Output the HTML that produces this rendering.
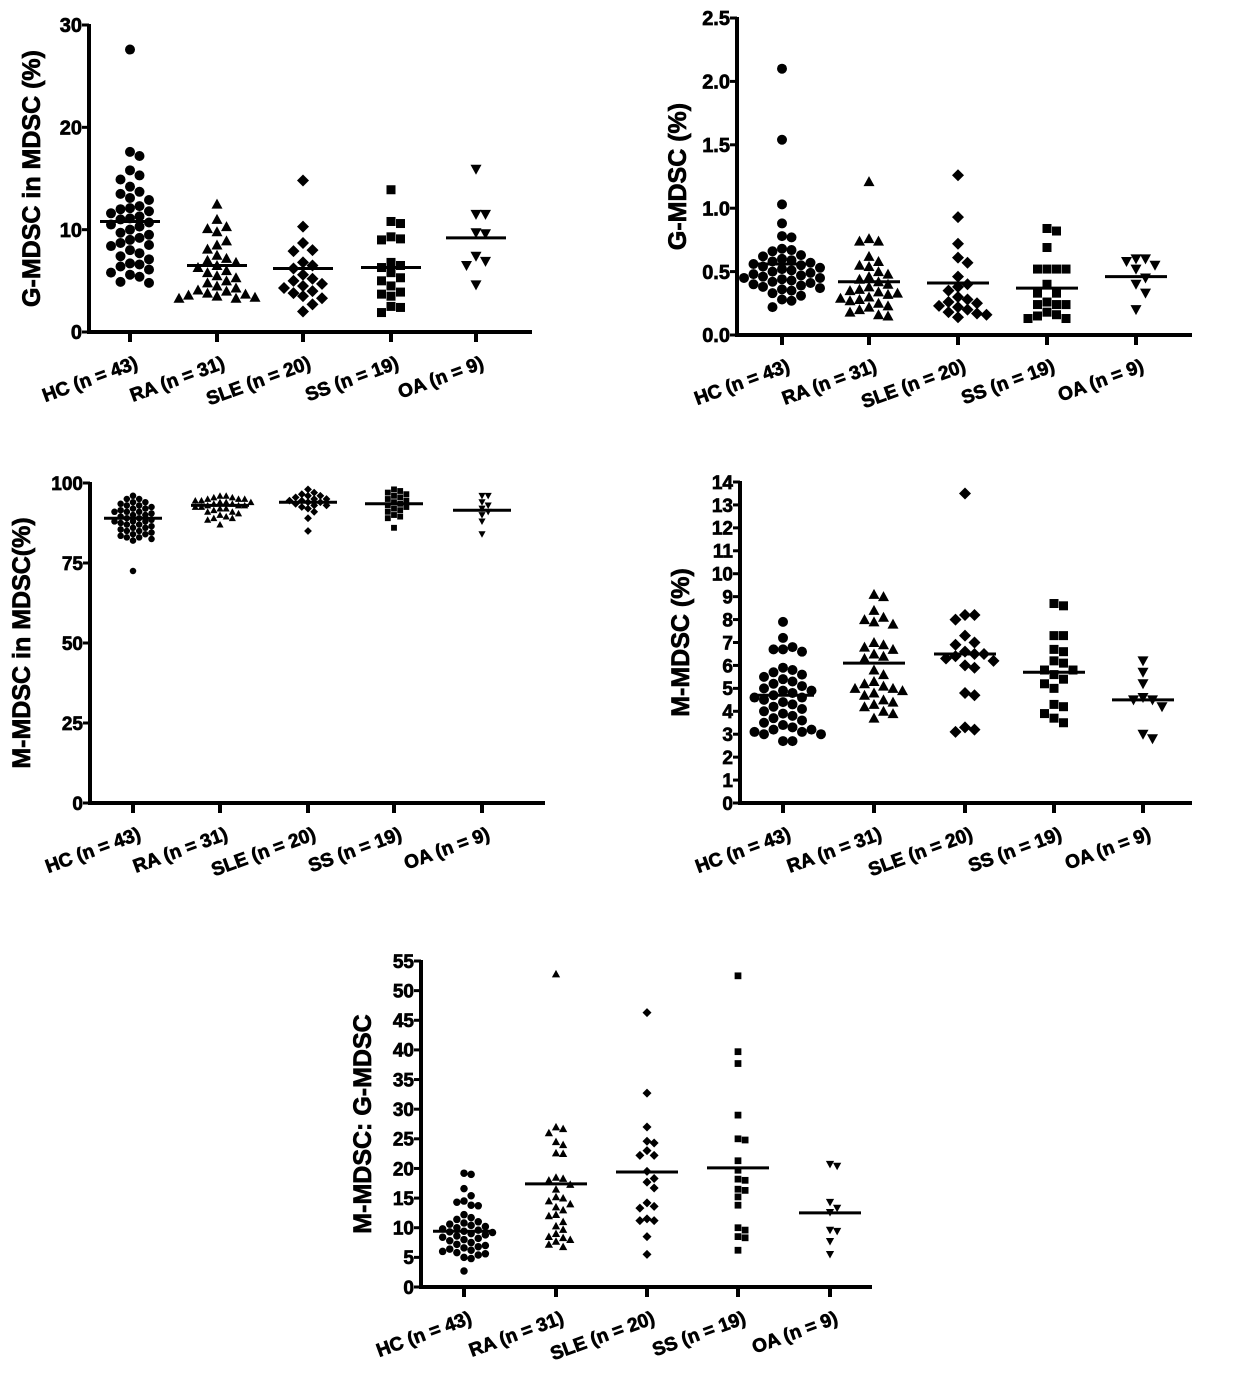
<!DOCTYPE html>
<html><head><meta charset="utf-8">
<style>
html,body{margin:0;padding:0;background:#fff;}
svg{display:block;font-family:"Liberation Sans",Arial,sans-serif;font-weight:bold;}
svg text{stroke:#000;stroke-width:0.7px;}
</style></head>
<body>
<svg id="fig" width="1240" height="1389" viewBox="0 0 1240 1389" xmlns="http://www.w3.org/2000/svg"></svg>
<script>
const categories = ["HC (n = 43)","RA (n = 31)","SLE (n = 20)","SS (n = 19)","OA (n = 9)"];
const shapes = ["circle","triangle","diamond","square","down"];

// Panel A: G-MDSC in MDSC (%)
const gInM_HC = [27.6,17.6,17.2,15.8,15.3,14.9,14.2,13.7,13.5,13.1,12.9,12.3,12.1,12.0,11.8,11.6,11.3,11.1,11.0,10.7,10.5,10.3,10.0,9.7,9.5,9.2,9.0,8.7,8.5,8.4,8.0,7.7,7.4,7.1,6.7,6.6,6.4,6.1,5.8,5.6,5.4,4.9,4.8];
const gInM_RA = [12.5,11.0,10.3,10.1,9.8,8.9,8.5,8.1,7.5,7.2,7.0,6.8,6.5,6.3,6.0,5.8,5.5,5.3,5.0,4.8,4.5,4.3,4.1,4.0,3.8,3.7,3.6,3.5,3.4,3.3,3.3];
const gInM_SLE = [14.8,10.3,8.7,8.0,7.9,6.8,6.5,6.2,5.6,5.2,5.0,4.7,4.5,4.3,4.0,3.8,3.5,3.3,2.7,2.0];
const gInM_SS = [13.9,10.8,10.6,9.3,9.1,9.0,6.8,6.5,6.3,5.8,5.3,5.0,4.5,3.9,3.7,3.5,2.5,2.4,1.9];
const gInM_OA = [15.9,11.5,11.5,9.7,9.6,7.4,6.9,6.5,4.6];
const gInM_means = [10.8,6.5,6.2,6.3,9.2];
const gInM_ticks = [0,10,20,30];

// Panel B: G-MDSC (%)
const g_HC = [2.10,1.54,1.03,0.88,0.78,0.77,0.68,0.67,0.66,0.63,0.62,0.60,0.59,0.58,0.57,0.56,0.55,0.54,0.53,0.52,0.51,0.50,0.49,0.48,0.47,0.46,0.45,0.45,0.44,0.43,0.42,0.41,0.40,0.39,0.38,0.37,0.36,0.35,0.33,0.31,0.28,0.27,0.22];
const g_RA = [1.21,0.76,0.74,0.74,0.62,0.58,0.55,0.54,0.50,0.48,0.46,0.44,0.42,0.40,0.38,0.36,0.35,0.34,0.33,0.32,0.30,0.29,0.28,0.27,0.25,0.23,0.22,0.20,0.18,0.16,0.15];
const g_SLE = [1.26,0.93,0.72,0.61,0.57,0.46,0.40,0.38,0.35,0.30,0.28,0.26,0.25,0.23,0.22,0.20,0.18,0.17,0.16,0.14];
const g_SS = [0.84,0.82,0.69,0.52,0.52,0.52,0.52,0.40,0.33,0.33,0.26,0.24,0.24,0.24,0.18,0.16,0.15,0.13,0.13];
const g_OA = [0.60,0.60,0.58,0.55,0.52,0.45,0.40,0.33,0.20];
const g_means = [0.56,0.42,0.41,0.37,0.46];
const g_ticks = [0,0.5,1.0,1.5,2.0,2.5];

// Panel C: M-MDSC in MDSC (%)
const mInM_HC = [96,95,95,94,94,93.5,93,93,92.5,92,92,91.5,91,91,90.5,90,90,89.5,89,89,88.5,88,88,87.5,87,87,86.5,86,86,85.5,85,85,84.5,84,84,83.5,83,83,82.5,82,91,88,72.5];
const mInM_RA = [96,96,95.5,95.5,95,95,95,94.5,94.5,94,94,94,93.5,93.5,93,93,93,92.5,92.5,92,92,91.5,91,91,90.5,90,89.5,89,89,88.5,87];
const mInM_SLE = [98,97,96.5,96,96,95.5,95,95,94.5,94.5,94,94,93.5,93,93,92.5,92,91,89,85];
const mInM_SS = [98,97.5,97,96.5,96,95.5,95,94.5,94,93.5,93,92.5,92,91.5,91,90,89.5,89,86];
const mInM_OA = [96,96,94,93,92,91,90,88,84];
const mInM_means = [89,93,94,93.5,91.5];
const mInM_ticks = [0,25,50,75,100];

// Panel D: M-MDSC (%)
const m_HC = [7.9,7.2,6.8,6.7,6.7,6.6,5.9,5.8,5.7,5.6,5.5,5.4,5.3,5.2,5.1,5.0,4.9,4.9,4.8,4.7,4.6,4.6,4.5,4.4,4.3,4.2,4.1,4.0,3.9,3.8,3.7,3.6,3.5,3.4,3.3,3.2,3.2,3.1,3.1,3.0,3.0,2.7,2.7];
const m_RA = [9.1,9.0,8.4,8.1,8.0,7.9,7.8,7.0,6.9,6.8,6.7,6.5,6.4,6.3,5.8,5.6,5.3,5.2,5.1,5.0,5.0,4.9,4.8,4.7,4.5,4.4,4.3,4.2,4.0,3.9,3.7];
const m_SLE = [13.5,8.2,8.2,8.0,7.3,7.0,6.9,6.6,6.5,6.5,6.4,6.3,6.2,6.0,5.9,4.8,4.7,3.3,3.2,3.1];
const m_SS = [8.7,8.6,7.3,7.3,6.7,6.6,6.2,6.1,5.8,5.8,5.6,5.4,5.2,5.0,4.3,4.2,3.9,3.7,3.5];
const m_OA = [6.2,5.7,5.2,4.6,4.5,4.5,4.2,3.0,2.8];
const m_means = [4.7,6.1,6.5,5.7,4.5];
const m_ticks = [0,1,2,3,4,5,6,7,8,9,10,11,12,13,14];

// Panel E: M-MDSC : G-MDSC
const r_HC = [19.2,19.0,16.6,15.4,14.5,14.3,13.8,13.7,12.2,11.7,11.4,11.0,10.8,10.6,10.4,10.2,10.0,9.8,9.6,9.4,9.3,9.2,9.0,8.8,8.6,8.4,8.2,8.0,7.8,7.5,7.2,7.0,6.8,6.6,6.4,6.2,6.0,5.8,5.6,5.4,5.0,4.8,2.7];
const r_RA = [52.8,27.0,26.7,26.0,24.5,24.0,22.6,22.5,18.5,18.3,18.0,17.3,16.5,15.2,15.0,14.5,14.0,13.5,13.0,12.2,12.0,11.0,10.3,9.7,9.0,8.5,8.3,8.0,7.7,7.2,6.8];
const r_SLE = [46.3,32.7,27.0,24.6,24.3,23.0,22.2,22.2,19.5,18.3,17.7,16.7,14.2,13.6,13.3,11.5,11.2,11.2,8.5,5.5];
const r_SS = [52.5,39.7,37.7,29.0,25.0,24.8,21.3,19.7,18.2,18.0,16.5,16.3,15.2,13.8,10.0,9.6,8.5,8.3,6.2];
const r_OA = [20.7,20.4,14.3,13.3,12.6,9.6,9.4,7.7,5.5];
const r_means = [9.4,17.4,19.4,20.1,12.5];
const r_ticks = [0,5,10,15,20,25,30,35,40,45,50,55];

const NS = "http://www.w3.org/2000/svg";
const svg = document.getElementById("fig");
function mk(tag, attrs, parent){
  const e = document.createElementNS(NS, tag);
  for (const k in attrs) e.setAttribute(k, attrs[k]);
  (parent||svg).appendChild(e);
  return e;
}

function marker(g, shape, x, y, s){
  let e;
  if (shape==="circle") e = mk("circle",{cx:x,cy:y,r:s*0.5,fill:"#000"},g);
  else if (shape==="square") e = mk("rect",{x:x-s*0.45,y:y-s*0.45,width:s*0.9,height:s*0.9,fill:"#000"},g);
  else if (shape==="triangle") e = mk("polygon",{points:`${x},${y-s*0.55} ${x+s*0.55},${y+s*0.45} ${x-s*0.55},${y+s*0.45}`,fill:"#000"},g);
  else if (shape==="down") e = mk("polygon",{points:`${x},${y+s*0.55} ${x+s*0.55},${y-s*0.45} ${x-s*0.55},${y-s*0.45}`,fill:"#000"},g);
  else e = mk("polygon",{points:`${x},${y-s*0.6} ${x+s*0.6},${y} ${x},${y+s*0.6} ${x-s*0.6},${y}`,fill:"#000"},g);
  return e;
}

function panel(cfg){
  const {name, ax, y0, y1, xEnd, vmax, ticks, tickFmt, cats, groups, means, title, titleX, ms, meanW, tfs} = cfg;
  const g = mk("g",{});
  
  
  const yScale = v => y0 - (v / vmax) * (y0 - y1);
  const yAxis = mk("line",{x1:ax,y1:y1-1,x2:ax,y2:y0+2,stroke:"#000","stroke-width":4},g);
  
  
  const xAxis = mk("line",{x1:ax-2,y1:y0,x2:xEnd,y2:y0,stroke:"#000","stroke-width":4},g);
  
  
  ticks.forEach(t=>{
    const y = yScale(t);
    const tk = mk("line",{x1:ax-7,y1:y,x2:ax,y2:y,stroke:"#000","stroke-width":3},g);
    
    
    const lb = mk("text",{x:ax-7,y:y+tfs*0.36,"text-anchor":"end","font-size":tfs},g);
    lb.textContent = tickFmt(t);
    
    
  });
  const tt = mk("text",{x:0,y:0,"text-anchor":"middle","font-size":25,transform:`translate(${titleX},${(y0+y1)/2}) rotate(-90)`},g);
  tt.textContent = title;
  
  
  cats.forEach((cx,i)=>{
    const tk = mk("line",{x1:cx,y1:y0,x2:cx,y2:y0+10,stroke:"#000","stroke-width":4},g);
    
    
    const lb = mk("text",{x:0,y:0,"text-anchor":"end","font-size":19,transform:`translate(${cx+9},${y0+36}) rotate(-20)`},g);
    lb.textContent = categories[i];
    
    
    const placed = [];
    const vals = groups[i];
    const sp = ms*0.95;
    vals.forEach(v=>{
      const y = yScale(v);
      let off = 0, k = 0;
      while (true){
        const cand = k===0 ? 0 : (k%2 ? 1 : -1) * Math.ceil(k/2) * sp;
        const ok = placed.every(p => Math.hypot(p[0]-cand, p[1]-y) >= sp);
        if (ok || k>40){ off = cand; break; }
        k++;
      }
      placed.push([off,y]);
      const m = marker(g, shapes[i], cx+off, y, ms);
      
      
    });
    const my = yScale(means[i]);
    const ml = mk("line",{x1:cx-meanW/2,y1:my,x2:cx+meanW/2,y2:my,stroke:"#000","stroke-width":3},g);
    
    
  });
}

panel({name:"g-mdsc-in-mdsc-panel",ax:89,y0:332,y1:25,xEnd:532,vmax:30,ticks:gInM_ticks,tickFmt:t=>String(t),
  cats:[130,217,303,391,476],groups:[gInM_HC,gInM_RA,gInM_SLE,gInM_SS,gInM_OA],means:gInM_means,
  title:"G-MDSC in MDSC (%)",titleX:40,ms:10,meanW:60,tfs:20});
panel({name:"g-mdsc-panel",ax:737,y0:335,y1:18,xEnd:1192,vmax:2.5,ticks:g_ticks,tickFmt:t=>t.toFixed(1),
  cats:[782,869,958,1047,1136],groups:[g_HC,g_RA,g_SLE,g_SS,g_OA],means:g_means,
  title:"G-MDSC (%)",titleX:686,ms:10,meanW:62,tfs:20});
panel({name:"m-mdsc-in-mdsc-panel",ax:90,y0:803,y1:483,xEnd:545,vmax:100,ticks:mInM_ticks,tickFmt:t=>String(t),
  cats:[133,220,308,394,482],groups:[mInM_HC,mInM_RA,mInM_SLE,mInM_SS,mInM_OA],means:mInM_means,
  title:"M-MDSC in MDSC(%)",titleX:30,ms:6.5,meanW:58,tfs:19});
panel({name:"m-mdsc-panel",ax:740,y0:803,y1:482,xEnd:1192,vmax:14,ticks:m_ticks,tickFmt:t=>String(t),
  cats:[783,874,965,1054,1143],groups:[m_HC,m_RA,m_SLE,m_SS,m_OA],means:m_means,
  title:"M-MDSC (%)",titleX:689,ms:10,meanW:62,tfs:19});
panel({name:"m-to-g-ratio-panel",ax:421,y0:1287,y1:961,xEnd:872,vmax:55,ticks:r_ticks,tickFmt:t=>String(t),
  cats:[464,556,647,738,830],groups:[r_HC,r_RA,r_SLE,r_SS,r_OA],means:r_means,
  title:"M-MDSC: G-MDSC",titleX:371,ms:7.5,meanW:62,tfs:19});
</script>
</body></html>
